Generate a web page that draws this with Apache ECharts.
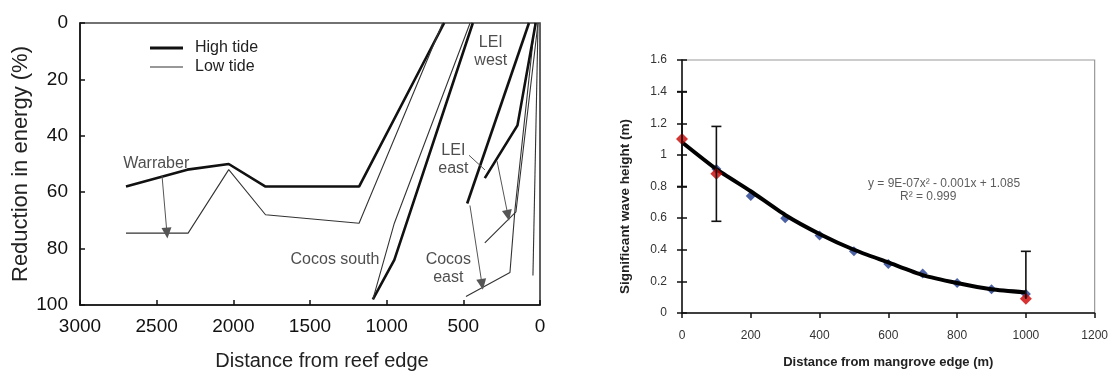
<!DOCTYPE html>
<html>
<head>
<meta charset="utf-8">
<script src="https://cdn.jsdelivr.net/npm/echarts@6/dist/echarts.min.js"></script>
<style>html,body{margin:0;padding:0;background:#fff}#c{width:1111px;height:376px}</style>
</head>
<body>
<div id="c"></div>
<script>
// ---------- Left panel: reduction in energy vs distance from reef edge ----------
const reefTicks = [3000, 2500, 2000, 1500, 1000, 500, 0];
const warraberHigh = [[2700,58],[2300,52],[2030,50],[1790,58],[1180,58],[625,0]];
const warraberLow  = [[2700,74.5],[2295,74.5],[2030,52],[1790,68],[1180,71],[635,0]];
const cocosSouthHigh = [[1090,98],[950,84],[438,0]];
const cocosSouthLow  = [[1090,98],[950,71],[456,0]];
const leiWestHigh = [[475,64],[72,0]];
const leiWestLow  = [[483,97],[196,88.5],[163,66],[33,0]];
const leiEastHigh = [[360,55],[147,36.3],[28,0]];
const leiEastLow  = [[360,78],[157,67],[13,0]];
const cocosEastLow = [[46,89.5],[13,0]];
const siteLabels = [[2503,50,'Warraber'],[321,10,'LEI\nwest'],[565,48.3,'LEI\neast'],[1337,84,'Cocos south'],[598,87,'Cocos\neast']];
const arrows = [ // [from x, from y, to x, to y, arrowhead]
  [2465,54.2,2433,74.5,true],
  [463,46.9,359,52.1,false],
  [280,49,209,68.2,true],
  [457,64.7,378,92.7,true]
];

// ---------- Right panel: wave height vs distance from mangrove edge ----------
const mangroveX = [100,200,300,400,500,600,700,800,900,1000];
const modelH    = [0.91,0.74,0.60,0.49,0.39,0.31,0.25,0.19,0.15,0.12];
const fieldX = [0,100,1000];
const fieldH = [1.10,0.88,0.09];
const errLow  = [0.80,0.58,0.09];
const errHigh = [1.40,1.18,0.39];
const errLowCap = [1,1,0];
const trendX = [0,100,200,300,400,500,600,700,800,900,1000];
const trendH = [1.08,0.91,0.77,0.62,0.50,0.40,0.32,0.24,0.19,0.15,0.13];
const fitText = [[762,0.815,'y = 9E-07x\u00b2 - 0.001x + 1.085'],[716,0.733,'R\u00b2 = 0.999']];

const FONT = 'Liberation Sans, Arial, sans-serif';
const chart = echarts.init(document.getElementById('c'), null, {renderer:'canvas'});
const plain = v => String(v);

function thick(data){ return {type:'line', name:'High tide', xAxisIndex:0, yAxisIndex:0, data, symbol:'none', itemStyle:{color:'#111'}, lineStyle:{color:'#111', width:2.6}, z:3, silent:true}; }
function thin(data){ return {type:'line', name:'Low tide', xAxisIndex:0, yAxisIndex:0, data, symbol:'none', itemStyle:{color:'#333'}, lineStyle:{color:'#333', width:1.1}, z:3, silent:true}; }

const option = {
  backgroundColor:'#fff',
  animation:false,
  textStyle:{fontFamily:FONT},
  grid:[
    {left:80, top:23, width:460, height:286, show:true, borderColor:'#444', borderWidth:1.7, backgroundColor:'transparent'},
    {left:682, top:60, width:414, height:253, show:true, borderColor:'#999', borderWidth:1.2, backgroundColor:'transparent'}
  ],
  legend:{
    data:[
      {name:'High tide', icon:'path://M0 0H33V3H0Z', itemStyle:{color:'#111'}},
      {name:'Low tide', icon:'path://M0 0H33V1H0Z', itemStyle:{color:'#333'}}
    ],
    orient:'vertical', left:145, top:35, itemWidth:33, itemHeight:14, itemGap:3, symbolKeepAspect:true,
    textStyle:{fontSize:16, color:'#222', fontFamily:FONT, padding:[0,0,0,7]}, selectedMode:false
  },
  xAxis:[
    {gridIndex:0, type:'value', position:'bottom', min:0, max:3000, interval:500, inverse:true,
     axisLine:{onZero:false, lineStyle:{color:'#111', width:1.5}}, axisTick:{inside:true, length:5, lineStyle:{color:'#111', width:1.5}},
     axisLabel:{fontSize:19, color:'#111', margin:12, fontFamily:FONT, formatter:plain}, splitLine:{show:false},
     name:'Distance from reef edge', nameLocation:'middle', nameGap:46,
     nameTextStyle:{fontSize:20, color:'#222', fontFamily:FONT, padding:[0,0,0,24]}},
    {gridIndex:1, type:'value', position:'bottom', min:0, max:1200, interval:200,
     axisLine:{onZero:false, lineStyle:{color:'#111', width:1.5}}, axisTick:{inside:false, length:5, lineStyle:{color:'#111', width:1.5}},
     axisLabel:{fontSize:12, color:'#333', margin:17, fontFamily:FONT, formatter:plain}, splitLine:{show:false},
     name:'Distance from mangrove edge (m)', nameLocation:'middle', nameGap:43,
     nameTextStyle:{fontSize:13, fontWeight:'bold', color:'#222', fontFamily:FONT}}
  ],
  yAxis:[
    {gridIndex:0, type:'value', position:'left', min:0, max:100, interval:20, inverse:true,
     axisLine:{onZero:false, lineStyle:{color:'#111', width:1.5}}, axisTick:{inside:true, length:5, lineStyle:{color:'#111', width:1.5}},
     axisLabel:{fontSize:19, color:'#111', margin:12, fontFamily:FONT, formatter:plain}, splitLine:{show:false},
     name:'Reduction in energy (%)', nameLocation:'middle', nameGap:45,
     nameTextStyle:{fontSize:22, color:'#222', fontFamily:FONT}},
    {gridIndex:1, type:'value', position:'left', min:0, max:1.6, interval:0.2,
     axisLine:{onZero:false, lineStyle:{color:'#111', width:1.5}}, axisTick:{inside:false, length:5, lineStyle:{color:'#111', width:1.5}},
     axisLabel:{fontSize:12, color:'#333', margin:15, fontFamily:FONT, formatter:plain}, splitLine:{show:false},
     name:'Significant wave height (m)', nameLocation:'middle', nameGap:50,
     nameTextStyle:{fontSize:13.5, fontWeight:'bold', color:'#222', fontFamily:FONT, padding:[0,40,0,0]}},
    {gridIndex:1, type:'value', position:'left', offset:0, min:0, max:1.6, interval:0.2,
     axisLine:{show:false, onZero:false}, axisTick:{inside:true, length:5, lineStyle:{color:'#111', width:1.5}},
     axisLabel:{show:false}, splitLine:{show:false}}
  ],
  series:[
    thick(warraberHigh), thin(warraberLow),
    thick(cocosSouthHigh), thin(cocosSouthLow),
    thick(leiWestHigh), thin(leiWestLow),
    thick(leiEastHigh), thin(leiEastLow),
    thin(cocosEastLow),
    {type:'scatter', name:'labels', xAxisIndex:0, yAxisIndex:0, symbolSize:1, silent:true,
     itemStyle:{color:'transparent'},
     data:siteLabels,
     label:{show:true, position:'inside', formatter:p=>p.value[2], fontSize:16, lineHeight:18, color:'#222', fontFamily:FONT, align:'center'},
     markLine:{silent:true, symbolSize:[10,11], label:{show:false},
       lineStyle:{color:'#555', width:1, type:'solid'},
       data: arrows.map(a=>[{coord:[a[0],a[1]], symbol:'none'},{coord:[a[2],a[3]], symbol:a[4]?'triangle':'none'}]),
       z:4}},
    // right panel
    {type:'scatter', name:'model', xAxisIndex:1, yAxisIndex:1, symbol:'diamond', symbolSize:10,
     itemStyle:{color:'#1f3b8e'}, data:mangroveX.map((x,i)=>[x,modelH[i]]), z:2, silent:true},
    {type:'line', name:'trend', xAxisIndex:1, yAxisIndex:1, symbol:'none', smooth:0.2,
     lineStyle:{color:'#000', width:4}, data:trendX.map((x,i)=>[x,trendH[i]]), z:3, silent:true},
    {type:'scatter', name:'field', xAxisIndex:1, yAxisIndex:1, symbol:'diamond', symbolSize:12,
     itemStyle:{color:'#cc0000'}, data:fieldX.map((x,i)=>[x,fieldH[i]]), z:4, silent:true},
    {type:'custom', name:'err', xAxisIndex:1, yAxisIndex:1, z:5, silent:true,
     data:fieldX.map((x,i)=>[x,errLow[i],errHigh[i],errLowCap[i]]),
     encode:{x:0, y:[1,2]},
     renderItem:(params, api)=>{
       const x=api.value(0), lo=api.value(1), hi=api.value(2), capLo=api.value(3);
       const top=api.coord([x,hi]), bot=api.coord([x,lo]);
       const st={stroke:'#111', lineWidth:1.6};
       const ch=[
         {type:'line', shape:{x1:top[0], y1:top[1], x2:bot[0], y2:bot[1]}, style:st},
         {type:'line', shape:{x1:top[0]-5, y1:top[1], x2:top[0]+5, y2:top[1]}, style:st}
       ];
       if (capLo) ch.push({type:'line', shape:{x1:bot[0]-5, y1:bot[1], x2:bot[0]+5, y2:bot[1]}, style:st});
       return {type:'group', children:ch};
     }},
    {type:'scatter', name:'fit', xAxisIndex:1, yAxisIndex:1, symbolSize:1, silent:true,
     itemStyle:{color:'transparent'}, data:fitText,
     label:{show:true, position:'inside', formatter:p=>p.value[2], fontSize:12, color:'#333', fontFamily:FONT}}
  ]
};
chart.setOption(option);
</script>
</body>
</html>
